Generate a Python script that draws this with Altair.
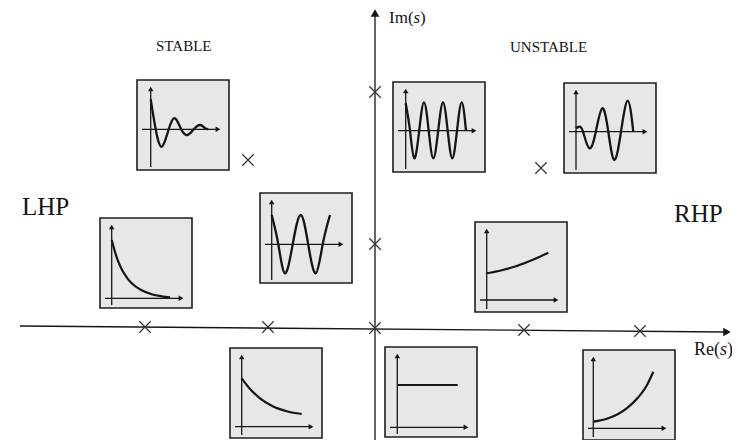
import altair as alt
import pandas as pd

# ---------------- s-plane (pixel-space diagram coordinates) ----------------
re_axis_x = [20, 724]
re_axis_y = [326, 332]
im_axis_x = [375, 375]
im_axis_y = [16, 448]
arrow_x = [375, 727]
arrow_y = [13, 332]
arrow_shape = ["triangle-up", "triangle-right"]

# poles (x marks)
pole_x = [145, 268, 375, 524, 640, 375, 375, 248, 541]
pole_y = [327, 327, 328, 330, 331, 92, 244, 160, 168]

# ---------------- inset panels ----------------
panel_id = ["damped", "sust_l", "decay_fast", "sust_r", "growing",
            "grow_slow", "decay_slow", "constant", "grow_fast"]
panel_kind = ["osc", "osc", "exp", "osc", "osc", "exp", "exp", "exp", "exp"]
panel_left = [137, 260, 100, 393, 564, 475, 230, 385, 583]
panel_top = [80, 193, 218, 82, 83, 222, 348, 347, 350]
panel_ox = [13.7, 11.7, 11.7, 12.7, 12.0, 11.7, 11.7, 12.3, 10.3]
panel_oy = [49.3, 51.3, 80.3, 48.7, 48.7, 78.0, 78.7, 80.3, 78.3]
PW, PH = 92, 90
AX_TOP, AX_BOT, AX_L, AX_R = 6, 87, 5, 84

# curves: t = px right of inset origin, v = px above it
damped_t = [0, 5, 11, 18, 24.3, 30.5, 36.6, 43, 49.3, 54, 57.6]
damped_v = [30, 0, -17.4, 0, 11, 0, -5.7, 0, 4.3, 1.5, 0]
sust_l_t = [0, 6.6, 13.3, 21, 29, 36.5, 44, 51, 58.3]
sust_l_v = [29.3, 0, -29, 0, 29.3, 0, -29, 0, 29.3]
decay_fast_t = [0, 5, 10, 15, 20, 30, 40, 50, 58.3]
decay_fast_v = [58.3, 41, 29, 21, 15, 8, 4, 2, 1]
sust_r_t = [0, 4.3, 8.6, 13.5, 18.3, 23, 27.6, 32.5, 37.3, 42, 46.6, 51.3, 56, 60.3]
sust_r_v = [27.4, 0, -27.6, 0, 28.4, 0, -27.6, 0, 28.4, 0, -27.6, 0, 28.4, 0]
growing_t = [0, 3.3, 7, 13.3, 19.8, 26.3, 32.3, 38.3, 45, 51.7, 57.3]
growing_v = [3.4, 5, 0, -16.6, 0, 23.4, 0, -28.3, 0, 31, 0]
grow_slow_t = [0, 15, 30, 45, 61.6]
grow_slow_v = [26.7, 29.8, 34, 39.7, 47.3]
decay_slow_t = [0, 9, 18.3, 30, 45, 60]
decay_slow_v = [48.4, 37, 28.4, 21, 15.5, 12.7]
constant_t = [0, 60.4]
constant_v = [42.3, 42.3]
grow_fast_t = [0, 15, 33.4, 45, 53, 60]
grow_fast_v = [6.6, 10, 20, 31, 42, 56.6]

curves = {
    "damped": (damped_t, damped_v), "sust_l": (sust_l_t, sust_l_v),
    "decay_fast": (decay_fast_t, decay_fast_v), "sust_r": (sust_r_t, sust_r_v),
    "growing": (growing_t, growing_v), "grow_slow": (grow_slow_t, grow_slow_v),
    "decay_slow": (decay_slow_t, decay_slow_v), "constant": (constant_t, constant_v),
    "grow_fast": (grow_fast_t, grow_fast_v),
}

# labels
label_text = ["STABLE", "UNSTABLE", "LHP", "RHP", "Im(", ")", "Re(", ")"]
label_x = [156, 510, 22, 674, 389, 420, 694, 727]
label_y = [51, 52, 215, 222, 23, 23, 355, 355]
label_size = [15, 15, 25, 25, 17, 17, 18, 18]
italic_text = ["s", "s"]
italic_x = [413.5, 720]
italic_y = [23, 355]
italic_size = [17, 18]

INK = "#151515"

# ---------------- build tables ----------------
boxes, rules, heads, pts = [], [], [], []
for i, pid in enumerate(panel_id):
    L, T = panel_left[i], panel_top[i]
    ox, oy = L + panel_ox[i], T + panel_oy[i]
    boxes.append(dict(x=L, x2=L + PW, y=T, y2=T + PH))
    rules.append(dict(x=ox, x2=ox, y=T + AX_TOP + 3, y2=T + AX_BOT))
    rules.append(dict(x=L + AX_L, x2=L + AX_R - 3, y=oy, y2=oy))
    heads.append(dict(x=ox, y=T + AX_TOP + 3, shape="triangle-up"))
    heads.append(dict(x=L + AX_R - 3, y=oy, shape="triangle-right"))
    t, v = curves[pid]
    for k, (tt, vv) in enumerate(zip(t, v)):
        pts.append(dict(panel=pid, kind=panel_kind[i], seq=k, x=ox + tt, y=oy - vv))

boxes = pd.DataFrame(boxes)
rules = pd.DataFrame(rules)
heads = pd.DataFrame(heads)
pts = pd.DataFrame(pts)
main_rules = pd.DataFrame(dict(x=[re_axis_x[0], im_axis_x[0]], x2=[re_axis_x[1], im_axis_x[1]],
                               y=[re_axis_y[0], im_axis_y[0]], y2=[re_axis_y[1], im_axis_y[1]]))
main_heads = pd.DataFrame(dict(x=arrow_x, y=arrow_y, shape=arrow_shape))
poles = pd.DataFrame(dict(x=pole_x, y=pole_y))
labels = pd.DataFrame(dict(text=label_text, x=label_x, y=label_y, fs=label_size))
ital = pd.DataFrame(dict(text=italic_text, x=italic_x, y=italic_y, fs=italic_size))

xs = alt.Scale(domain=[8, 732], nice=False, zero=False)
ys = alt.Scale(domain=[8, 440], reverse=True, nice=False, zero=False)
X = alt.X("x:Q", scale=xs, axis=None)
Y = alt.Y("y:Q", scale=ys, axis=None)

box_layer = alt.Chart(boxes).mark_rect(fill="#e7e7e7", stroke="#1e1e1e", strokeWidth=1.6).encode(
    x=X, x2="x2:Q", y=Y, y2="y2:Q")
rule_layer = alt.Chart(rules).mark_rule(color=INK, strokeWidth=1.3).encode(
    x=X, x2="x2:Q", y=Y, y2="y2:Q")
head_layer = alt.Chart(heads).mark_point(filled=True, color=INK, size=30, opacity=1).encode(
    x=X, y=Y, shape=alt.Shape("shape:N", scale=None, legend=None))
osc_layer = alt.Chart(pts).transform_filter(alt.datum.kind == "osc").mark_line(
    interpolate="natural", color=INK, strokeWidth=2.3).encode(
    x=X, y=Y, detail="panel:N", order="seq:Q")
exp_layer = alt.Chart(pts).transform_filter(alt.datum.kind == "exp").mark_line(
    interpolate="monotone", color=INK, strokeWidth=2.2).encode(
    x=X, y=Y, detail="panel:N", order="seq:Q")
main_rule_layer = alt.Chart(main_rules).mark_rule(color=INK, strokeWidth=1.3).encode(
    x=X, x2="x2:Q", y=Y, y2="y2:Q")
main_head_layer = alt.Chart(main_heads).mark_point(filled=True, color=INK, size=75, opacity=1).encode(
    x=X, y=Y, shape=alt.Shape("shape:N", scale=None, legend=None))
pole_layer = alt.Chart(poles).mark_point(shape="M-1,-1L1,1M-1,1L1,-1", size=130, filled=False,
                                         color="#333333", strokeWidth=1.2, opacity=1).encode(x=X, y=Y)
label_layer = alt.Chart(labels).mark_text(align="left", baseline="alphabetic", font="Liberation Serif",
                                          color=INK).encode(
    x=X, y=Y, text="text:N", size=alt.Size("fs:Q", scale=None, legend=None))
ital_layer = alt.Chart(ital).mark_text(align="left", baseline="alphabetic", font="Liberation Serif",
                                       fontStyle="italic", color=INK).encode(
    x=X, y=Y, text="text:N", size=alt.Size("fs:Q", scale=None, legend=None))

chart = alt.layer(
    box_layer, rule_layer, head_layer, osc_layer, exp_layer,
    main_rule_layer, main_head_layer, pole_layer, label_layer, ital_layer
).properties(
    width=724, height=432,
    autosize=alt.AutoSizeParams(type="none"),
    padding=0,
    view=alt.ViewBackground(strokeOpacity=0, strokeWidth=0),
).configure_view(strokeOpacity=0, strokeWidth=0).configure(background="white")

chart.save("out.html", embed_options={"renderer": "svg", "actions": False})
